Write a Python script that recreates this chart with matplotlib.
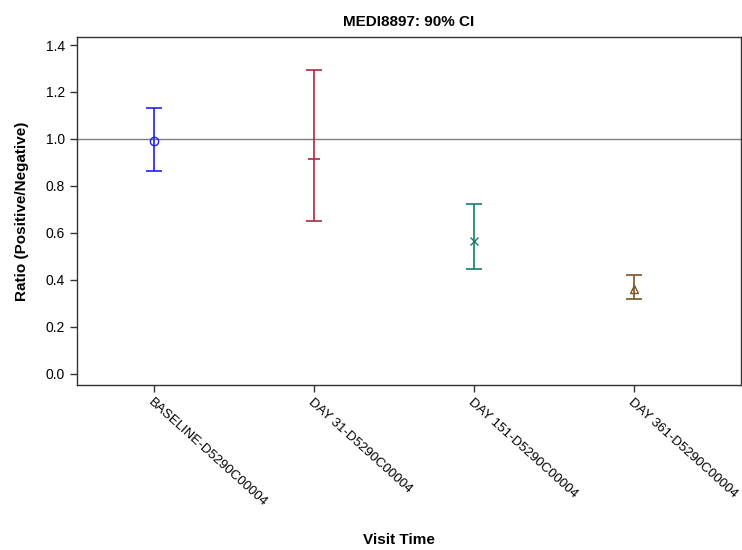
import matplotlib
matplotlib.use("Agg")
import matplotlib.pyplot as plt

plt.rcParams['font.family'] = ['Liberation Sans', 'DejaVu Sans']

categories = ["BASELINE-D5290C00004", "DAY 31-D5290C00004", "DAY 151-D5290C00004", "DAY 361-D5290C00004"]
ratio = [0.99, 0.915, 0.566, 0.362]
lower = [0.864, 0.651, 0.447, 0.317]
upper = [1.133, 1.292, 0.723, 0.421]
colors = ["#2020f0", "#b02840", "#127f6e", "#7a5424"]
markers = ["o", "_", "x", "^"]
yticks = [0.0, 0.2, 0.4, 0.6, 0.8, 1.0, 1.2, 1.4]

fig = plt.figure(figsize=(7.42, 5.5), dpi=100)
ax = fig.add_axes([0.1038, 0.3, 0.8949, 0.6327])

ax.axhline(1.0, color="#808080", lw=1.0, zorder=1)
for i, (r, lo, up, c, m) in enumerate(zip(ratio, lower, upper, colors, markers)):
    ax.errorbar([i], [r], yerr=[[r - lo], [up - r]], fmt='none', ecolor=c,
                elinewidth=1.2, capsize=6, capthick=1.2, zorder=2)
    if m == "_":
        ax.plot([i], [r], marker=m, ms=8, mec=c, mew=1.2, zorder=3)
    else:
        ax.plot([i], [r], marker=m, ms=6, mfc='none', mec=c, mew=1.0, zorder=3)

ax.set_xlim(-0.48, 3.67)
ax.set_ylim(-0.047, 1.434)
ax.set_yticks(yticks)
ax.set_yticklabels([f"{v:.1f}" for v in yticks], fontsize=10)
ax.set_xticks(range(len(categories)))
ax.set_xticklabels(categories, rotation=-42, ha='left', va='top',
                   rotation_mode='anchor', fontsize=9.5)
ax.tick_params(direction='out', length=5, color='#333333', width=1)
for s in ax.spines.values():
    s.set_color('#333333')
    s.set_linewidth(1)

ax.set_title("MEDI8897: 90% CI", fontsize=11, fontweight='bold', pad=8)
ax.set_ylabel("Ratio (Positive/Negative)", fontsize=11, fontweight='bold', labelpad=12)
fig.text(0.537, 0.0055, "Visit Time", fontsize=11, fontweight='bold', ha='center', va='bottom')

fig.savefig("out.png", dpi=100)
